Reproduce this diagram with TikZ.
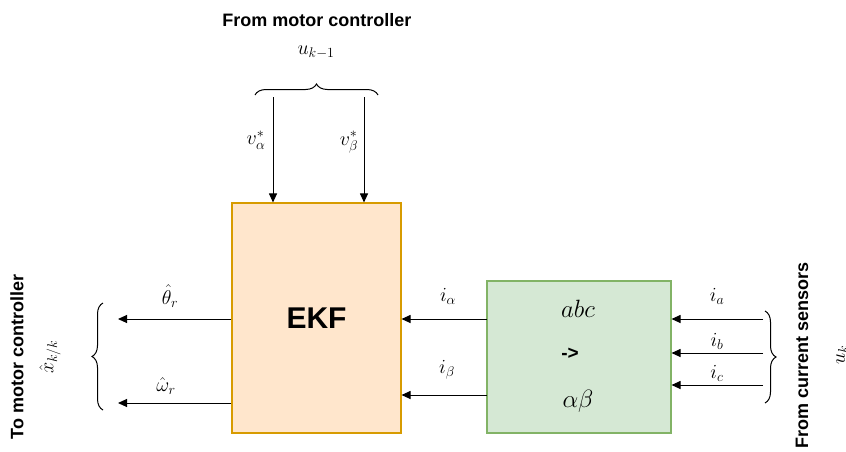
\documentclass[tikz,border=0pt]{standalone}
\usepackage{fix-cm}
\usepackage{fontspec}
\setmainfont{Liberation Sans}
\usetikzlibrary{decorations.pathreplacing,arrows.meta}
\definecolor{ekffill}{HTML}{FFE6CC}
\definecolor{ekfline}{HTML}{D79B00}
\definecolor{grfill}{HTML}{D5E8D4}
\definecolor{grline}{HTML}{82B366}
\begin{document}
\begin{tikzpicture}[x=1pt,y=-1pt,
  conn/.style={-{Triangle[length=9pt,width=8pt]},line width=1pt},
  brc/.style={decorate,decoration={brace,amplitude=11pt},line width=1pt},
  lab/.style={font=\fontsize{20}{24}\selectfont},
  big/.style={font=\fontsize{25}{30}\selectfont},
  ttl/.style={font=\fontsize{18}{21}\selectfont\bfseries}]
\useasboundingbox (0,0) rectangle (846,451);
% boxes
\node[draw=ekfline,fill=ekffill,line width=1.1pt,minimum width=169pt,minimum height=230pt,inner sep=0pt,
  font=\fontsize{30}{34}\selectfont\bfseries] (ekf) at (316.5,318) {EKF};
\node[draw=grline,fill=grfill,line width=1.1pt,minimum width=184pt,minimum height=152pt,inner sep=0pt] (tr) at (579,357) {};
\node[big] (abc) at (578,309) {$abc$};
\node[font=\fontsize{19}{22}\selectfont\bfseries] (arr) at (570,354) {->};
\node[big] (ab) at (578,401) {$\alpha\beta$};
% top inputs
\coordinate (va0) at (273,97);
\coordinate (vb0) at (364,97);
\draw[conn] (va0) -- (va0 |- ekf.north);
\draw[conn] (vb0) -- (vb0 |- ekf.north);
\node[lab] (va) at (256,140) {$v_\alpha^*$};
\node[lab] (vb) at (349,142) {$v_\beta^*$};
\coordinate (tb1) at (255,95);
\coordinate (tb2) at (378,95);
\draw[brc] (tb1) -- (tb2);
\node[lab] (uk1) at (316,52) {$u_{k-1}$};
\node[ttl] (ftitle) at (317,20) {From motor controller};
% left outputs
\coordinate (th1) at (118,319);
\coordinate (om1) at (118,403);
\draw[conn] (ekf.west |- th1) -- (th1);
\draw[conn] (ekf.west |- om1) -- (om1);
\node[lab] (th) at (170,296) {$\hat\theta_r$};
\node[lab] (om) at (166,386) {$\hat\omega_r$};
\coordinate (lb1) at (103,410);
\coordinate (lb2) at (103,303);
\draw[brc] (lb1) -- (lb2);
\node[lab,rotate=90] (xk) at (50,357) {$\hat x_{k/k}$};
\node[ttl,rotate=90] (ttitle) at (17,357) {To motor controller};
% middle
\coordinate (ia0) at (487,319);
\coordinate (ib0) at (487,395);
\draw[conn] (ia0) -- (ekf.east |- ia0);
\draw[conn] (ib0) -- (ekf.east |- ib0);
\node[lab] (ia) at (448,296) {$i_\alpha$};
\node[lab] (ib) at (447,370) {$i_\beta$};
% right inputs
\coordinate (ra) at (763,319);
\coordinate (rb) at (763,353);
\coordinate (rc) at (763,385);
\draw[conn] (ra) -- (tr.east |- ra);
\draw[conn] (rb) -- (tr.east |- rb);
\draw[conn] (rc) -- (tr.east |- rc);
\node[lab] (iaa) at (717,296) {$i_a$};
\node[lab] (ibb) at (717,341) {$i_b$};
\node[lab] (icc) at (717,373) {$i_c$};
\coordinate (rb1) at (765,311);
\coordinate (rb2) at (765,403);
\draw[brc] (rb1) -- (rb2);
\node[ttl,rotate=90] (ctitle) at (802,355) {From current sensors};
\node[lab,rotate=90] (uk) at (842,355) {$u_k$};
\end{tikzpicture}
\end{document}
